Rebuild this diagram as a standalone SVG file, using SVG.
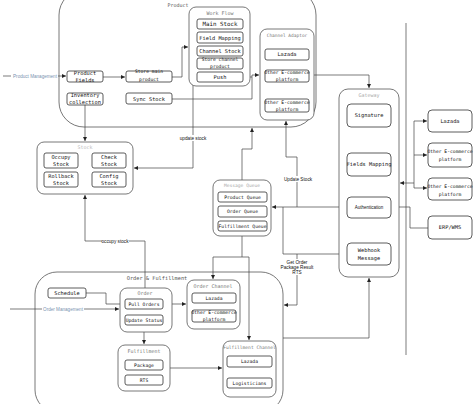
<svg xmlns="http://www.w3.org/2000/svg" width="474" height="404" viewBox="0 0 474 404">
<defs>
<marker id="arr" markerUnits="userSpaceOnUse" markerWidth="4" markerHeight="4" viewBox="0 0 6 6" refX="6" refY="3" orient="auto"><path d="M0,0 L6,3 L0,6 z" fill="#222"/></marker>
<style>
.big{fill:none;stroke:#555;stroke-width:0.8}
.ct{fill:#fff;stroke:#555;stroke-width:0.8}
.box{fill:#fff;stroke:#333;stroke-width:0.8}
.t{font-family:'DejaVu Sans Mono','Liberation Mono',monospace;font-size:5.3px;fill:#111;text-anchor:middle}
.s{font-size:4.7px}
.ctl{font-family:'DejaVu Sans Mono','Liberation Mono',monospace;font-size:5px;fill:#777;text-anchor:middle}
.lt{fill:#aaa}
.lbl{font-family:'Liberation Sans',Arial,sans-serif;font-size:4.7px;fill:#111;text-anchor:middle}
.mg{fill:#7a93b0}
.c{fill:none;stroke:#444;stroke-width:0.7}
.a{marker-end:url(#arr)}
.bg{fill:#fff}
</style>
</defs>
<rect width="474" height="404" fill="#fff"/>

<g id="containers">
<rect id="product" class="big" x="59" y="-10" width="257" height="137" rx="25"/>
<text class="ctl" x="178" y="7" style="fill:#555">Product</text>
<rect id="order-fulfillment" class="big" x="35" y="272" width="248" height="140" rx="22"/>
<text class="ctl" x="157" y="280" style="fill:#555;font-size:5.3px">Order &amp; Fulfillment</text>
</g>

<g id="connectors">
<path class="c" d="M406,23 V355"/>
<path class="c a" d="M3,76 H66"/>
<rect class="bg" x="11" y="73" width="47" height="6"/>
<text class="lbl mg" x="35" y="77.6" style="font-size:4.6px">Product Management</text>
<path class="c a" d="M103,77 H125"/>
<path class="c a" d="M172,77 H182 V47 H188"/>
<path class="c a" d="M172,99 H252 V75 H259"/>
<path class="c" d="M243,77 H252"/>
<path class="c a" d="M314,75 H369 V88"/>
<path class="c a" d="M85,105 V141"/>
<path class="c a" d="M197,24 H193 V168 H134"/>
<path class="c" d="M193,51 H197"/>
<rect class="bg" x="180" y="135" width="27" height="6"/>
<text class="lbl" x="193" y="139.6">update stock</text>
<path class="c a" d="M242,180 V149 H252 V128"/>
<path class="c a" d="M347,207 H297 V157 H286 V121"/>
<rect class="bg" x="285" y="176" width="27" height="6"/>
<text class="lbl" x="298" y="180.6">Update Stock</text>
<path class="c a" d="M297,207 H272"/>
<path class="c" d="M347,254 H283 V207"/>
<path class="c a" d="M297,254 V305 H284"/>
<rect class="bg" x="281" y="259" width="33" height="16"/>
<text class="lbl" x="297" y="263.5">Get Order</text>
<text class="lbl" x="297" y="268.5">Package Result</text>
<text class="lbl" x="297" y="273.5">RTS</text>
<path class="c a" d="M283,338 H369 V278"/>
<path class="c a" d="M414,183 H400"/>
<path class="c" d="M414,121 V188"/>
<path class="c a" d="M414,121 H427"/>
<path class="c a" d="M414,155 H427"/>
<path class="c a" d="M414,188 H427"/>
<path class="c a" d="M428,228 H410 V207 H392"/>
<path class="c a" d="M145,288 V241 H85 V195"/>
<rect class="bg" x="102" y="238" width="27" height="6"/>
<text class="lbl" x="115" y="242.6">occupy stock</text>
<path class="c a" d="M242,236 V257 H213 V279"/>
<path class="c a" d="M242,257 H249 V340"/>
<path class="c a" d="M86,293 H106 V304 H124"/>
<path class="c a" d="M10,309 H119"/>
<rect class="bg" x="42" y="306" width="42" height="6"/>
<text class="lbl mg" x="63" y="310.6" style="font-size:4.6px">Order Management</text>
<path class="c a" d="M163,304 H186"/>
<path class="c a" d="M144,332 V344"/>
<path class="c a" d="M170,368 H222"/>
</g>

<g id="product-fields"><rect class="box" x="67" y="71" width="36" height="11" rx="2"/><text class="t" x="85" y="74.5">Product</text><text class="t" x="85" y="81.5">Fields</text></g>
<g id="store-main-product"><rect class="box" x="126" y="71" width="46" height="11" rx="2"/><text class="t s" x="149" y="73">Store main</text><text class="t s" x="149" y="80.5">product</text></g>
<g id="inventory-collection"><rect class="box" x="67" y="93" width="36" height="12" rx="2"/><text class="t" x="85" y="96.5">Inventory</text><text class="t" x="85" y="104">collection</text></g>
<g id="sync-stock"><rect class="box" x="126" y="93" width="46" height="11" rx="2"/><text class="t" x="149" y="100.5">Sync Stock</text></g>

<g id="work-flow">
<rect class="ct" x="189" y="7" width="61" height="79" rx="7"/>
<text class="ctl" x="220" y="14.5">Work Flow</text>
<rect class="box" x="197" y="19" width="46" height="10" rx="2"/><text class="t" x="220" y="25.8" style="font-size:5.8px">Main Stock</text>
<rect class="box" x="197" y="32" width="46" height="11" rx="2"/><text class="t" x="220" y="39.5">Field Mapping</text>
<rect class="box" x="197" y="46" width="46" height="10" rx="2"/><text class="t" x="220" y="52.8">Channel Stock</text>
<rect class="box" x="197" y="58" width="46" height="11" rx="2"/><text class="t s" x="220" y="61">Store channel</text><text class="t s" x="220" y="67.5">product</text>
<rect class="box" x="197" y="72" width="46" height="10" rx="2"/><text class="t" x="220" y="78.8">Push</text>
</g>

<g id="channel-adaptor">
<rect class="ct" x="260" y="29" width="54" height="91" rx="7"/>
<text class="ctl s" x="287" y="36.5" style="font-size:4.5px">Channel Adaptor</text>
<rect class="box" x="265" y="49" width="44" height="11" rx="2"/><text class="t" x="287" y="56.3">Lazada</text>
<rect class="box" x="265" y="70" width="44" height="12" rx="2"/><text class="t s" x="287" y="74">Other E-commerce</text><text class="t s" x="287" y="81">platform</text>
<rect class="box" x="265" y="99" width="44" height="13" rx="2"/><text class="t s" x="287" y="103.5">Other E-commerce</text><text class="t s" x="287" y="110.5">platform</text>
</g>

<g id="gateway">
<rect class="ct" x="339" y="89" width="60" height="188" rx="9"/>
<text class="ctl lt" x="369" y="97">Gateway</text>
<rect class="box" x="347" y="104" width="44" height="23" rx="4"/><text class="t" x="369" y="117.3">Signature</text>
<rect class="box" x="347" y="153" width="44" height="23" rx="4"/><text class="t" x="369" y="166.3">Fields Mapping</text>
<rect class="box" x="347" y="197" width="44" height="21" rx="4"/><text class="lbl" x="369" y="209.2" style="font-size:4.5px">Authentication</text>
<rect class="box" x="347" y="243" width="44" height="22" rx="4"/><text class="t" x="369" y="252.3">Webhook</text><text class="t" x="369" y="260">Message</text>
</g>

<g id="ext-lazada"><rect class="box" x="428" y="110" width="44" height="22" rx="4"/><text class="t" x="450" y="122.8">Lazada</text></g>
<g id="ext-other-1"><rect class="box" x="428" y="143" width="44" height="24" rx="4"/><text class="t s" x="450" y="153">Other E-commerce</text><text class="t s" x="450" y="161">platform</text></g>
<g id="ext-other-2"><rect class="box" x="428" y="178" width="44" height="22" rx="4"/><text class="t s" x="450" y="187.5">Other E-commerce</text><text class="t s" x="450" y="195.5">platform</text></g>
<g id="erp-wms"><rect class="box" x="428" y="216" width="44" height="23" rx="4"/><text class="t" x="450" y="229.3">ERP/WMS</text></g>

<g id="stock">
<rect class="ct" x="37" y="142" width="96" height="52" rx="7"/>
<text class="ctl lt" x="85" y="148.5" style="fill:#bbb">Stock</text>
<rect class="box" x="44" y="153" width="34" height="15" rx="2"/><text class="t" x="61" y="159">Occupy</text><text class="t" x="61" y="166">Stock</text>
<rect class="box" x="92" y="153" width="34" height="15" rx="2"/><text class="t" x="109" y="159">Check</text><text class="t" x="109" y="166">Stock</text>
<rect class="box" x="44" y="172" width="34" height="15" rx="2"/><text class="t" x="61" y="178">Rollback</text><text class="t" x="61" y="185">Stock</text>
<rect class="box" x="92" y="172" width="34" height="15" rx="2"/><text class="t" x="109" y="178">Config</text><text class="t" x="109" y="185">Stock</text>
</g>

<g id="message-queue">
<rect class="ct" x="213" y="180" width="58" height="56" rx="7"/>
<text class="ctl lt" x="242" y="186.5" style="font-size:4.6px">Message Queue</text>
<rect class="box" x="218" y="192" width="49" height="10" rx="2"/><text class="t s" x="242.5" y="198.7">Product Queue</text>
<rect class="box" x="218" y="206" width="49" height="11" rx="2"/><text class="t s" x="242.5" y="213.2">Order Queue</text>
<rect class="box" x="218" y="221" width="49" height="10" rx="2"/><text class="t s" x="242.5" y="227.7">Fulfillment Queue</text>
</g>

<g id="schedule"><rect class="box" x="48" y="288" width="38" height="10" rx="2"/><text class="t" x="67" y="294.8">Schedule</text></g>

<g id="order">
<rect class="ct" x="120" y="288" width="52" height="44" rx="7"/>
<text class="ctl" x="145" y="295">Order</text>
<rect class="box" x="125" y="299" width="38" height="10" rx="2"/><text class="t s" x="144" y="305.7">Pull Orders</text>
<rect class="box" x="125" y="315" width="38" height="10" rx="2"/><text class="t s" x="144" y="321.7">Update Status</text>
</g>

<g id="order-channel">
<rect class="ct" x="187" y="280" width="53" height="49" rx="7"/>
<text class="ctl" x="213" y="288">Order Channel</text>
<rect class="box" x="192" y="293" width="44" height="10" rx="2"/><text class="t s" x="214" y="299.7">Lazada</text>
<rect class="box" x="192" y="310" width="44" height="12" rx="2"/><text class="t s" x="214" y="313.5">Other E-commerce</text><text class="t s" x="214" y="320.5">platform</text>
</g>

<g id="fulfillment">
<rect class="ct" x="118" y="345" width="52" height="46" rx="7"/>
<text class="ctl" x="144" y="353">Fulfillment</text>
<rect class="box" x="125" y="360" width="38" height="10" rx="2"/><text class="t s" x="144" y="366.7">Package</text>
<rect class="box" x="125" y="375" width="38" height="10" rx="2"/><text class="t s" x="144" y="381.7">RTS</text>
</g>

<g id="fulfillment-channel">
<rect class="ct" x="223" y="341" width="53" height="56" rx="7"/>
<text class="ctl" x="249.5" y="348.5" style="font-size:4.6px">Fulfillment Channel</text>
<rect class="box" x="227" y="356" width="45" height="11" rx="2"/><text class="t s" x="249.5" y="363.2">Lazada</text>
<rect class="box" x="227" y="378" width="45" height="10" rx="2"/><text class="t s" x="249.5" y="384.7">Logisticians</text>
</g>
</svg>
